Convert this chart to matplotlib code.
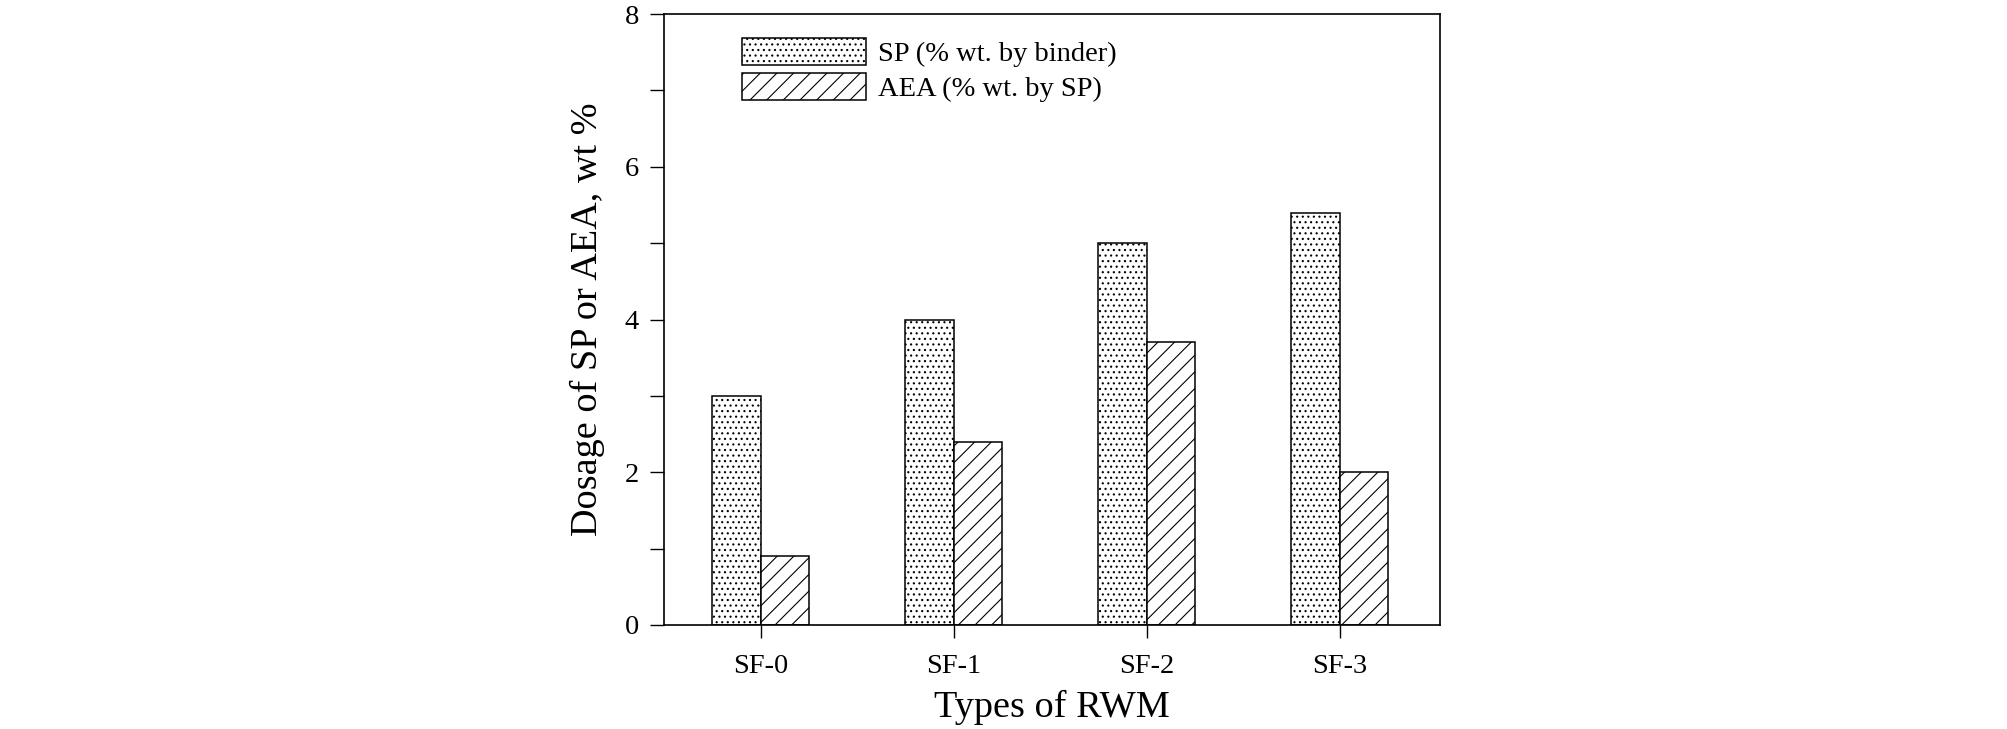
import matplotlib
matplotlib.use("Agg")
import matplotlib.pyplot as plt
import numpy as np

categories = ["SF-0", "SF-1", "SF-2", "SF-3"]
sp_values = [3.0, 4.0, 5.0, 5.4]
aea_values = [0.9, 2.4, 3.7, 2.0]
series_labels = ["SP (% wt. by binder)", "AEA (% wt. by SP)"]
y_major = [0, 2, 4, 6, 8]
y_minor = [1, 3, 5, 7]

plt.rcParams['font.family'] = ['Liberation Serif', 'DejaVu Serif']
plt.rcParams['hatch.linewidth'] = 0.8

fig = plt.figure(figsize=(20.08, 7.29), dpi=100)
ax = fig.add_axes([664/2008, 1 - 625/729, (1440 - 664)/2008, (625 - 14)/729])

x = np.arange(len(categories))
w = 0.25
ax.bar(x - w/2, sp_values, width=w, color='white', edgecolor='black',
       linewidth=1.1, hatch='...', label=series_labels[0])
ax.bar(x + w/2, aea_values, width=w, color='white', edgecolor='black',
       linewidth=1.1, hatch='//', label=series_labels[1])

ax.set_xlim(-0.5, 3.52)
ax.set_ylim(0, 8)
ax.set_xticks(x)
ax.set_xticklabels(categories, fontsize=20.5)
ax.set_yticks(y_major)
ax.set_yticks(y_minor, minor=True)
ax.set_yticklabels([str(v) for v in y_major], fontsize=20.5)
ax.tick_params(axis='y', which='both', direction='out', length=10, width=1.0,
               pad=8, right=False)
ax.tick_params(axis='x', which='both', direction='out', length=9, width=1.0,
               pad=12, top=False)
for s in ax.spines.values():
    s.set_linewidth(1.2)

ax.set_xlabel("Types of RWM", fontsize=27.5, labelpad=8)
ax.set_ylabel("Dosage of SP or AEA, wt %", fontsize=27.5, labelpad=14)

leg = ax.legend(loc='upper left', bbox_to_anchor=((742 - 664)/776, (625 - 38)/611),
                frameon=False, fontsize=20.5, handlelength=4.35, handleheight=1.1,
                handletextpad=0.42, labelspacing=0.2, borderpad=0, borderaxespad=0)

fig.savefig("out.png", dpi=100)
